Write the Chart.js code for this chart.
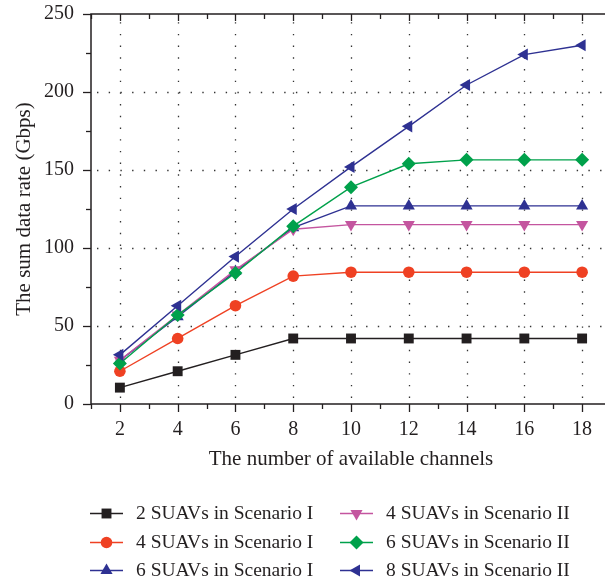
<!DOCTYPE html>
<html><head><meta charset="utf-8">
<script src="https://cdn.jsdelivr.net/npm/chart.js@4/dist/chart.umd.min.js"></script>
<style>html,body{margin:0;padding:0;background:#fff;overflow:hidden}#wrap{width:605px;height:584px;overflow:hidden;position:relative}canvas{display:block}</style>
</head><body><div id="wrap"><canvas id="c" width="618" height="584"></canvas></div>
<script>
// ---- data ----
const channels = [2, 4, 6, 8, 10, 12, 14, 16, 18];
const suav2ScenI = [10.5, 21, 31.5, 42, 42, 42, 42, 42, 42];
const suav4ScenI = [21, 42, 63, 82, 84.5, 84.5, 84.5, 84.5, 84.5];
const suav6ScenI = [28, 56, 85, 113, 127, 127, 127, 127, 127];
const suav4ScenII = [28, 57, 86, 112, 115, 115, 115, 115, 115];
const suav6ScenII = [26, 57, 84, 114, 139, 154, 156.5, 156.5, 156.5];
const suav8ScenII = [31.5, 63, 94.5, 125, 152, 178, 204.5, 224, 230];
const seriesLabels = ["2 SUAVs in Scenario I", "4 SUAVs in Scenario I", "6 SUAVs in Scenario I",
  "4 SUAVs in Scenario II", "6 SUAVs in Scenario II", "8 SUAVs in Scenario II"];
const xMajorTicks = [2, 4, 6, 8, 10, 12, 14, 16, 18];
const yMajorTicks = [0, 50, 100, 150, 200, 250];
const xTitle = "The number of available channels";
const yTitle = "The sum data rate (Gbps)";

const FONT = "'Liberation Serif', 'Times New Roman', serif";
const TXT = "#231f20";
const styles = [
  {color: "#231f20", pointStyle: "rect", radius: 7, rotation: 0},
  {color: "#ef4123", pointStyle: "circle", radius: 5.8, rotation: 0},
  {color: "#2e3192", pointStyle: "triangle", radius: 7, rotation: 0},
  {color: "#c4559f", pointStyle: "triangle", radius: 7, rotation: 180},
  {color: "#00a14b", pointStyle: "rectRot", radius: 7, rotation: 0},
  {color: "#2e3192", pointStyle: "triangle", radius: 7, rotation: 270}
];
const seriesValues = [suav2ScenI, suav4ScenI, suav6ScenI, suav4ScenII, suav6ScenII, suav8ScenII];

const datasets = seriesValues.map((vals, i) => ({
  label: seriesLabels[i],
  data: channels.map((c, j) => ({x: c, y: vals[j]})),
  borderColor: styles[i].color,
  backgroundColor: styles[i].color,
  pointBackgroundColor: styles[i].color,
  pointBorderColor: styles[i].color,
  borderWidth: 1.4,
  pointStyle: styles[i].pointStyle,
  pointRadius: styles[i].radius,
  pointRotation: styles[i].rotation,
  pointBorderWidth: 0,
  pointHoverRadius: styles[i].radius,
  tension: 0,
  order: 6 - i,
  clip: false
}));

const framePlugin = {
  id: 'frame',
  beforeDatasetsDraw(chart) {
    const {ctx, chartArea: a, scales: {x, y}} = chart;
    ctx.save();
    // dotted grid
    ctx.strokeStyle = "#333";
    ctx.lineWidth = 1.3;
    ctx.setLineDash([1.4, 10.3]);
    xMajorTicks.forEach(v => {
      const px = Math.round(x.getPixelForValue(v)) + 0.5;
      ctx.beginPath(); ctx.moveTo(px, a.bottom - 6); ctx.lineTo(px, a.top + 6); ctx.stroke();
    });
    yMajorTicks.filter(v => v > 0 && v < 250).forEach(v => {
      const py = Math.round(y.getPixelForValue(v)) + 0.5;
      ctx.beginPath(); ctx.moveTo(a.left + 6, py); ctx.lineTo(a.right, py); ctx.stroke();
    });
    ctx.setLineDash([]);
    // frame
    ctx.strokeStyle = "#231f20";
    ctx.lineWidth = 1.5;
    ctx.beginPath();
    ctx.moveTo(a.right, a.top); ctx.lineTo(a.left, a.top); ctx.lineTo(a.left, a.bottom); ctx.lineTo(a.right, a.bottom);
    ctx.stroke();
    ctx.lineWidth = 1.3;
    // x ticks (bottom outward, top inward)
    for (let v = 1; v <= 19; v++) {
      const px = Math.round(x.getPixelForValue(v)) + 0.5;
      const major = v % 2 === 0;
      const len = major ? 8 : 5;
      ctx.beginPath(); ctx.moveTo(px, a.bottom); ctx.lineTo(px, a.bottom + len); ctx.stroke();
      ctx.beginPath(); ctx.moveTo(px, a.top); ctx.lineTo(px, a.top + (major ? 7 : 5)); ctx.stroke();
    }
    // y ticks (left outward)
    for (let v = 0; v <= 250; v += 25) {
      const py = Math.round(y.getPixelForValue(v)) + 0.5;
      const len = v % 50 === 0 ? 8 : 5;
      ctx.beginPath(); ctx.moveTo(a.left, py); ctx.lineTo(a.left - len, py); ctx.stroke();
    }
    ctx.restore();
  },
  afterDraw(chart) {
    const {ctx, chartArea: a} = chart;
    ctx.save();
    ctx.fillStyle = TXT;
    ctx.font = "21px " + FONT;
    ctx.textAlign = "center";
    ctx.textBaseline = "alphabetic";
    ctx.fillText(xTitle, (a.left + a.right) / 2, 465);
    ctx.translate(30, (a.top + a.bottom) / 2);
    ctx.rotate(-Math.PI / 2);
    ctx.fillText(yTitle, 0, 0);
    ctx.restore();

    // legend (column-major, 2 columns x 3 rows)
    const colLineX = [90, 340];
    const rowY = [513, 542, 570];
    ctx.save();
    ctx.font = "19.5px " + FONT;
    ctx.textBaseline = "middle";
    ctx.textAlign = "left";
    chart.data.datasets.forEach((ds, i) => {
      const col = Math.floor(i / 3), row = i % 3;
      const x0 = colLineX[col], yy = rowY[row];
      ctx.strokeStyle = ds.borderColor;
      ctx.fillStyle = ds.backgroundColor;
      ctx.lineWidth = 1.4;
      ctx.beginPath(); ctx.moveTo(x0, yy + 0.5); ctx.lineTo(x0 + 33, yy + 0.5); ctx.stroke();
      Chart.helpers.drawPoint(ctx, {pointStyle: ds.pointStyle, radius: ds.pointRadius, rotation: ds.pointRotation, borderWidth: 0}, x0 + 16.5, yy + 0.5);
      ctx.fillStyle = TXT;
      ctx.fillText(ds.label, x0 + 46, yy + 1);
    });
    ctx.restore();
  }
};

new Chart(document.getElementById('c'), {
  type: 'line',
  data: {datasets},
  options: {
    responsive: false,
    animation: false,
    devicePixelRatio: 1,
    layout: {padding: {left: 0, top: 14, right: 2, bottom: 140}},
    plugins: {legend: {display: false}, tooltip: {enabled: false}},
    scales: {
      x: {
        type: 'linear', min: 1, max: 19,
        grid: {display: false, drawTicks: false},
        border: {display: false},
        afterFit(s) { s.height = 40; s.paddingLeft = 0; s.paddingRight = 0; s.paddingTop = 0; s.paddingBottom = 0; },
        ticks: {
          stepSize: 1, autoSkip: false, maxRotation: 0, padding: 14,
          color: TXT, font: {family: FONT, size: 20},
          callback: v => (xMajorTicks.includes(v) ? String(v) : '')
        }
      },
      y: {
        type: 'linear', min: 0, max: 250,
        grid: {display: false, drawTicks: false},
        border: {display: false},
        afterFit(s) { s.width = 91; s.paddingLeft = 0; s.paddingRight = 0; s.paddingTop = 0; s.paddingBottom = 0; },
        ticks: {
          stepSize: 50, padding: 17, color: TXT, font: {family: FONT, size: 20},
          callback: v => (yMajorTicks.includes(v) ? String(v) : '')
        }
      }
    }
  },
  plugins: [framePlugin]
});
</script>
</body></html>
